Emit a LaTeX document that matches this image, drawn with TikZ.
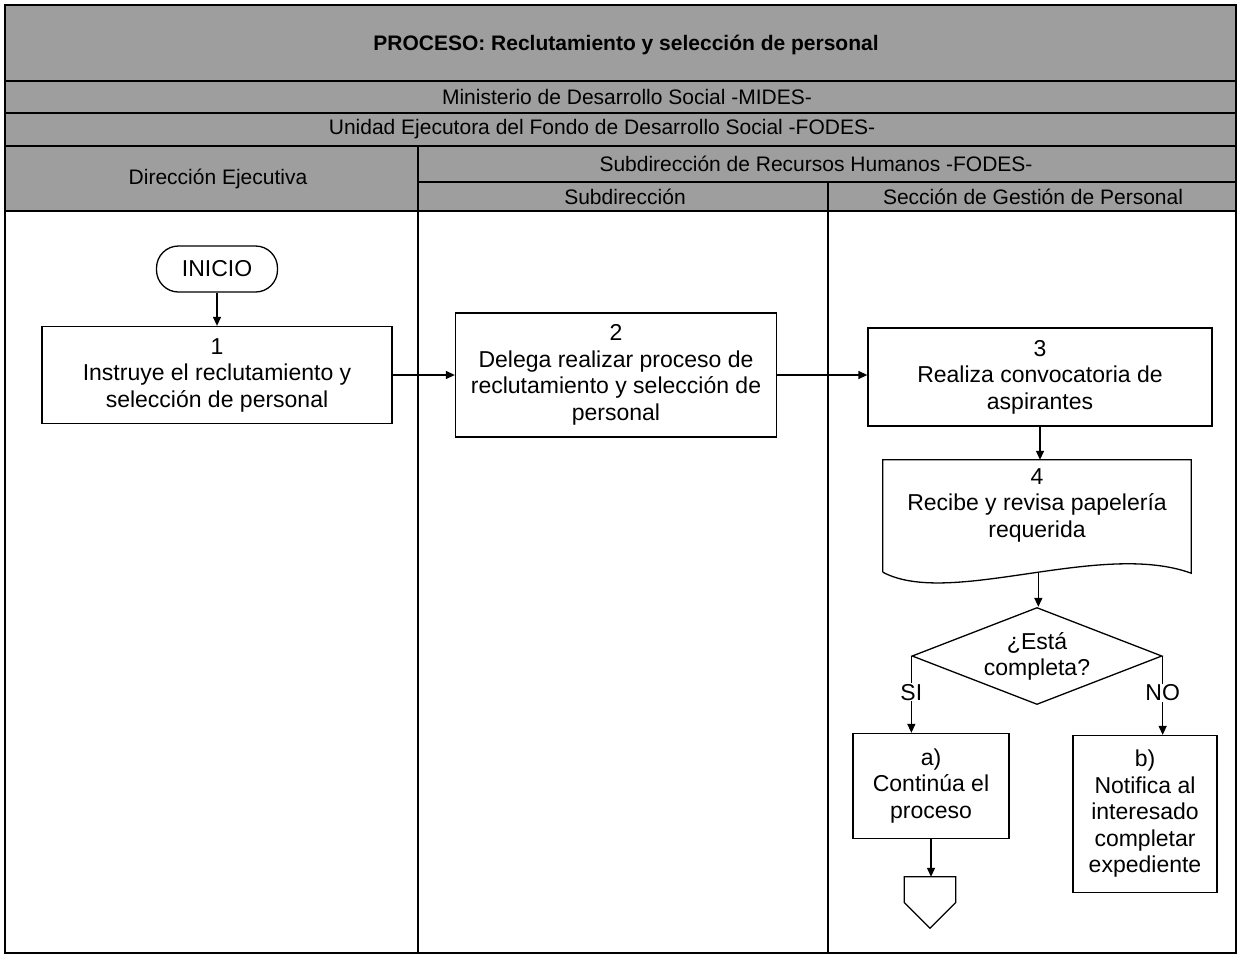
\documentclass[tikz,border=0pt]{standalone}
\usepackage{fontspec}
\setmainfont{Liberation Sans}
\usetikzlibrary{arrows.meta,calc,shapes.geometric}
\begin{document}
\begin{tikzpicture}[x=1pt,y=-1pt,
  frame/.style={line width=2.6pt},
  lane/.style={line width=2pt},
  hdrtext/.style={font=\fontsize{21}{24}\selectfont, inner sep=0},
  box/.style={draw, line width=1.3pt, align=center, inner sep=0,
    font=\fontsize{23}{26.5}\selectfont},
  plain/.style={align=center, inner sep=0, font=\fontsize{23}{26.5}\selectfont},
  flow/.style={line width=1.3pt, -{Triangle[length=9pt,width=8pt]}},
  edge/.style={line width=1.3pt},
  lbl/.style={fill=white, inner sep=1pt, font=\fontsize{23}{26}\selectfont}
]
\useasboundingbox (0,0) rectangle (1239,956);

% header band
\fill[black!38] (5,5) rectangle (1236,211);
\draw[frame] (5,5) rectangle (1236,953);
\draw[frame] (5,81) -- (1236,81);
\draw[frame] (5,113) -- (1236,113);
\draw[frame] (5,146) -- (1236,146);
\draw[frame] (5,211) -- (1236,211);
\draw[frame] (418,182) -- (1236,182);
\draw[frame] (418,146) -- (418,211);
\draw[frame] (828,182) -- (828,211);
% lane dividers
\draw[lane] (418,211) -- (418,953);
\draw[lane] (828,211) -- (828,953);

% header texts
\node[hdrtext, font=\bfseries\fontsize{21}{24}\selectfont] (title) at (626,45) {PROCESO: Reclutamiento y selección de personal};
\node[hdrtext] (mides) at (627,97) {Ministerio de Desarrollo Social -MIDES-};
\node[hdrtext] (fodes) at (602,129.5) {Unidad Ejecutora del Fondo de Desarrollo Social -FODES-};
\node[hdrtext] (dirlane) at (218,178.5) {Dirección Ejecutiva};
\node[hdrtext] (rrhh) at (816,164) {Subdirección de Recursos Humanos -FODES-};
\node[hdrtext] (sublane) at (625,196.5) {Subdirección};
\node[hdrtext] (seclane) at (1033,196.5) {Sección de Gestión de Personal};

% flow nodes
\node[box, rounded corners=22pt, minimum width=121pt, minimum height=46pt] (ini) at (217,269) {INICIO};
\node[box, minimum width=350pt, minimum height=97pt] (b1) at (217,375) {1\\Instruye el reclutamiento y\\selección de personal};
\node[box, minimum width=321pt, minimum height=124pt] (b2) at (616,375) {2\\Delega realizar proceso de\\reclutamiento y selección de\\personal};
\node[box, minimum width=344pt, minimum height=98pt] (b3) at (1040,377) {3\\Realiza convocatoria de\\aspirantes};

% document shape for step 4
\node[plain, minimum width=308pt, minimum height=90pt] (b4) at (1037,505) {4\\Recibe y revisa papelería\\requerida};
\draw[edge] ($(b4.south west)+(0,22)$) -- (b4.north west) -- (b4.north east) -- ($(b4.south east)+(0,23)$)
  .. controls (1100,540) and (950,608) .. ($(b4.south west)+(0,22)$)
  coordinate[pos=0.47] (b4out);

\node[draw, line width=1.3pt, shape=diamond, aspect=2.58, inner sep=0,
  minimum width=250pt, minimum height=97pt, align=center,
  font=\fontsize{23}{26}\selectfont] (dia) at (1037,656) {¿Está\\completa?};

\node[box, minimum width=156pt, minimum height=105pt] (ba) at (931,786) {a)\\Continúa el\\proceso};
\node[box, minimum width=144pt, minimum height=157pt] (bb) at (1145,814) {b)\\Notifica al\\interesado\\completar\\expediente};

% off-page connector
\node[inner sep=0, minimum width=51pt, minimum height=51pt] (off) at (930,902.5) {};
\draw[edge] (off.north west) -- (off.north east) -- (off.east) -- (off.south) -- (off.west) -- cycle;

% connectors
\draw[flow] (ini.south) -- (b1.north);
\draw[flow] (b1.east) -- (b1.east -| b2.west);
\draw[flow] (b2.east) -- (b2.east -| b3.west);
\draw[flow] (b3.south) -- (b3.south |- b4.north);
\draw[flow] (b4out) -- (b4out |- dia.north);
\draw[flow] (dia.west) -- (dia.west |- ba.north) node[lbl, pos=0.47] (si) {SI};
\draw[flow] (dia.east) -- (dia.east |- bb.north) node[lbl, pos=0.47] (no) {NO};
\draw[flow] (ba.south) -- (ba.south |- off.north);
\end{tikzpicture}
\end{document}
